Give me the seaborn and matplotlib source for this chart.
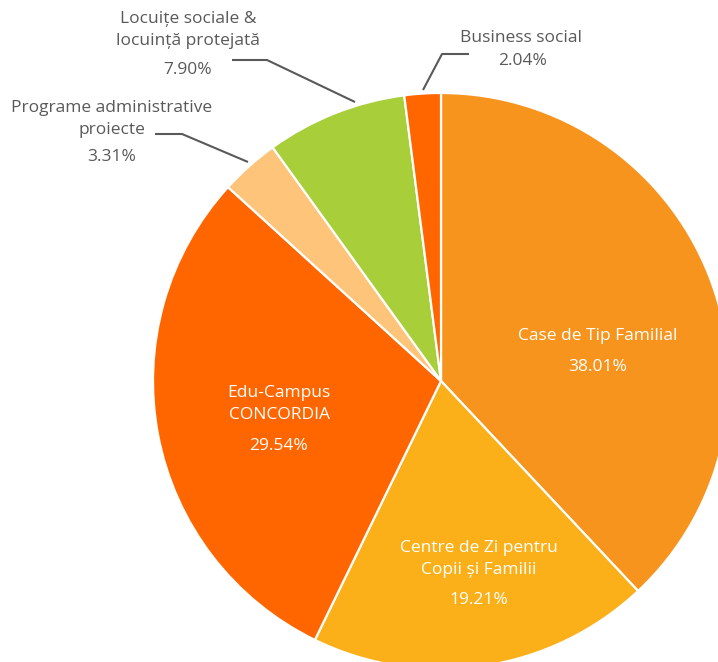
"""Pie chart of CONCORDIA programme shares."""

import matplotlib
matplotlib.use("Agg")
import matplotlib.pyplot as plt
import seaborn as sns

categories = [
    "Case de Tip Familial",
    "Centre de Zi pentru\nCopii și Familii",
    "Edu-Campus\nCONCORDIA",
    "Programe administrative\nproiecte",
    "Locuițe sociale &\nlocuință protejată",
    "Business social",
]
shares = [38.01, 19.21, 29.54, 3.31, 7.90, 2.04]
colors = ["#F7941D", "#FBB01A", "#FF6600", "#FDC47A", "#A8CF3A", "#FF6600"]

# pixel layout of the reference (center 441,381, radius 288)
CX, CY, R = 441, 381, 288
W, H = 718, 662


def px(x, y):
    return (x - CX) / R, (CY - y) / R


# name position, percent position, colour, leader line (pixel points)
label_layout = [
    ((598, 336), (598, 367), "white", None),
    ((479, 559), (479, 600), "white", None),
    ((279, 404), (279, 446), "white", None),
    ((112, 119), (112, 157), "#595959", [(155, 134), (182, 134), (248, 162)]),
    ((188, 30), (188, 70), "#595959", [(232, 60), (267, 60), (355, 102)]),
    ((521, 38), (523, 61), "#595959", [(469, 54), (442, 54), (423, 90)]),
]

sns.set_theme(style="white")
plt.rcParams["font.family"] = ["Open Sans", "DejaVu Sans"]

fig = plt.figure(figsize=(W / 100, H / 100), dpi=100)
ax = fig.add_axes([0, 0, 1, 1])
ax.pie(shares, colors=colors, startangle=90, counterclock=False, radius=1,
       wedgeprops={"edgecolor": "white", "linewidth": 1.6})
ax.set_aspect("auto")
ax.set_xlim(-CX / R, (W - CX) / R)
ax.set_ylim(-(H - CY) / R, CY / R)
ax.axis("off")

for name, val, (npos, ppos, col, leader) in zip(categories, shares, label_layout):
    ax.text(*px(*npos), name, ha="center", va="center", color=col,
            fontsize=12.5, linespacing=1.5)
    ax.text(*px(*ppos), f"{val:.2f}%", ha="center", va="center", color=col,
            fontsize=12.5)
    if leader:
        pts = [px(*p) for p in leader]
        ax.plot([p[0] for p in pts], [p[1] for p in pts], color="#595959",
                lw=1.5, solid_capstyle="butt")

fig.savefig("out.png", dpi=100)
